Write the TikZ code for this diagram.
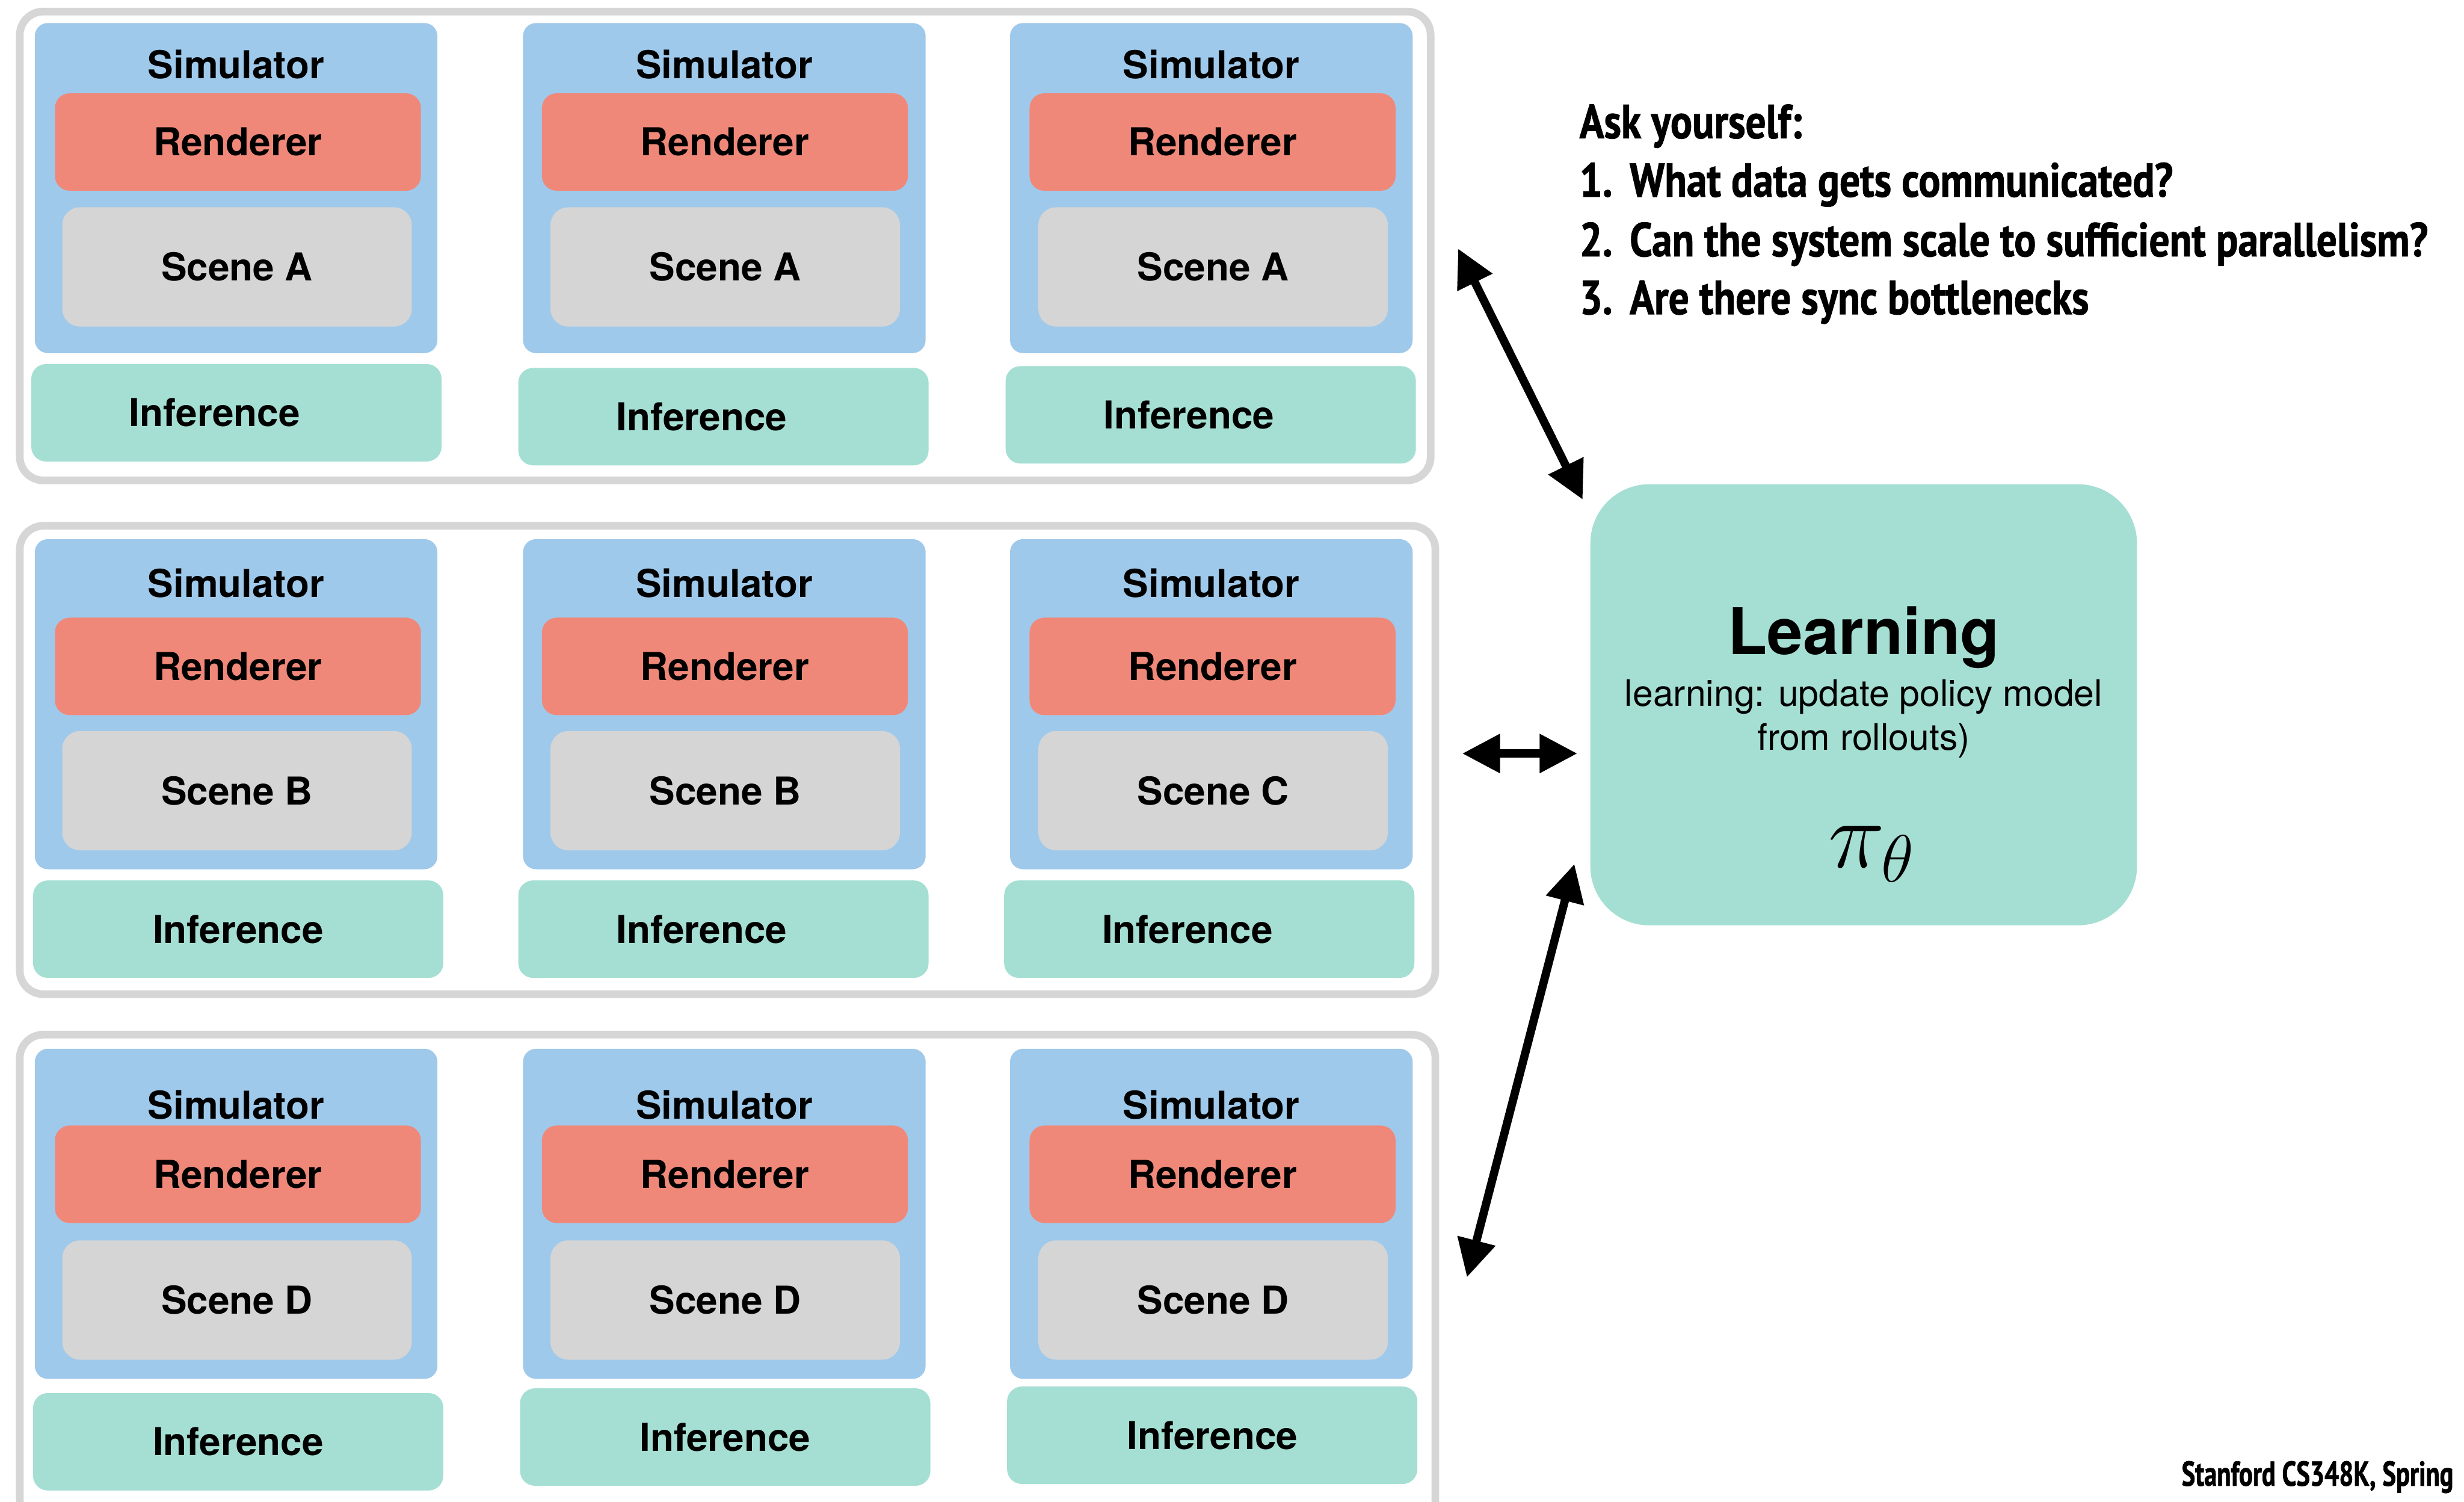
\RequirePackage{fix-cm}
\documentclass[tikz,border=0pt]{standalone}
\usepackage{fontspec}
\setsansfont{TeX Gyre Heros}
\newfontfamily\condfont[FakeStretch=0.85,FakeBold=1.2]{PT Sans}
\newfontfamily\footfont[FakeStretch=0.74,FakeBold=1.2]{PT Sans}
\usetikzlibrary{arrows.meta,positioning}
\definecolor{simblue}{HTML}{9FC9EB}
\definecolor{rendred}{HTML}{F08879}
\definecolor{scenegray}{HTML}{D5D5D5}
\definecolor{infgreen}{HTML}{A5DFD3}
\definecolor{grpgray}{HTML}{D6D6D6}

\begin{document}
\begin{tikzpicture}[
    font=\sffamily\bfseries\fontsize{18.5}{22}\selectfont,
    grpbox/.style={
		rectangle,
		rounded corners=0.4cm,
		draw=grpgray,
		line width=0.13cm,
		inner sep=0pt,
		minimum width=23.98cm
	},
	simbox/.style={
		rectangle,
		rounded corners=0.22cm,
		fill=simblue,
		inner sep=0pt,
		minimum width=6.82cm,
		minimum height=5.59cm
	},
	rendbox/.style={
		rectangle,
		rounded corners=0.25cm,
		fill=rendred,
		inner sep=0pt,
		minimum width=6.20cm,
		minimum height=1.65cm
	},
	scenebox/.style={
		rectangle,
		rounded corners=0.3cm,
		fill=scenegray,
		inner sep=0pt,
		minimum width=5.92cm,
		minimum height=2.02cm
	},
	infbox/.style={
		rectangle,
		rounded corners=0.25cm,
		fill=infgreen,
		inner sep=0pt,
		minimum width=6.95cm,
		minimum height=1.65cm,
		label={[xshift=#1]center:Inference}
	},
	infbox/.default=0cm,
	learnbox/.style={
		rectangle,
		rounded corners=1cm,
		fill=infgreen,
		minimum width=9.26cm,
		minimum height=7.47cm
	},
	asktext/.style={
		anchor=base west,
		inner sep=0pt,
		font=\condfont\bfseries\fontsize{23}{28}\selectfont
	},
	link/.style={
		{Triangle[length=0.64cm,width=0.63cm]}-{Triangle[length=0.64cm,width=0.63cm]},
		line width=0.14cm
	}
  ]

\useasboundingbox (0,0) rectangle (41.74,-25.43);

% // the three groups of workers
\node [grpbox, minimum width=23.90cm, minimum height=7.94cm] (grp1) at (12.285,-4.165) {};
\node [grpbox, minimum height=7.93cm] (grp2) at (12.325,-12.87) {};
\node [grpbox, minimum height=8.28cm] (grp3) at (12.325,-21.66) {};

% group 1
\node [simbox] (sim11) at (4.00,-3.185) {};
\node [simbox] (sim12) at (12.27,-3.185) {};
\node [simbox] (sim13) at (20.52,-3.185) {};
\node (simlab11) at (4.00,-1.09) {Simulator};
\node (simlab12) at (12.27,-1.09) {Simulator};
\node (simlab13) at (20.52,-1.09) {Simulator};
\node [rendbox] (rend11) at (4.03,-2.405) {Renderer};
\node [rendbox] (rend12) at (12.28,-2.405) {Renderer};
\node [rendbox] (rend13) at (20.54,-2.405) {Renderer};
\node [scenebox] (scene11) at (4.015,-4.52) {Scene A};
\node [scenebox] (scene12) at (12.285,-4.52) {Scene A};
\node [scenebox] (scene13) at (20.55,-4.52) {Scene A};
\node [infbox=-0.37cm] (inf11) at (4.005,-6.99) {};
\node [infbox=-0.37cm] (inf12) at (12.255,-7.055) {};
\node [infbox=-0.37cm] (inf13) at (20.51,-7.025) {};

% group 2
\node [simbox] (sim21) at (4.00,-11.925) {};
\node [simbox] (sim22) at (12.27,-11.925) {};
\node [simbox] (sim23) at (20.52,-11.925) {};
\node (simlab21) at (4.00,-9.88) {Simulator};
\node (simlab22) at (12.27,-9.88) {Simulator};
\node (simlab23) at (20.52,-9.88) {Simulator};
\node [rendbox] (rend21) at (4.03,-11.285) {Renderer};
\node [rendbox] (rend22) at (12.28,-11.285) {Renderer};
\node [rendbox] (rend23) at (20.54,-11.285) {Renderer};
\node [scenebox] (scene21) at (4.015,-13.39) {Scene B};
\node [scenebox] (scene22) at (12.285,-13.39) {Scene B};
\node [scenebox] (scene23) at (20.55,-13.39) {Scene C};
\node [infbox] (inf21) at (4.035,-15.735) {};
\node [infbox=-0.37cm] (inf22) at (12.255,-15.735) {};
\node [infbox=-0.37cm] (inf23) at (20.485,-15.735) {};

% group 3
\node [simbox] (sim31) at (4.00,-20.555) {};
\node [simbox] (sim32) at (12.27,-20.555) {};
\node [simbox] (sim33) at (20.52,-20.555) {};
\node (simlab31) at (4.00,-18.71) {Simulator};
\node (simlab32) at (12.27,-18.71) {Simulator};
\node (simlab33) at (20.52,-18.71) {Simulator};
\node [rendbox] (rend31) at (4.03,-19.885) {Renderer};
\node [rendbox] (rend32) at (12.28,-19.885) {Renderer};
\node [rendbox] (rend33) at (20.54,-19.885) {Renderer};
\node [scenebox] (scene31) at (4.015,-22.015) {Scene D};
\node [scenebox] (scene32) at (12.285,-22.015) {Scene D};
\node [scenebox] (scene33) at (20.55,-22.015) {Scene D};
\node [infbox] (inf31) at (4.035,-24.415) {};
\node [infbox] (inf32) at (12.285,-24.335) {};
\node [infbox] (inf33) at (20.535,-24.305) {};

% // the learner
\node [learnbox] (learn) at (31.57,-11.935) {};
\node [anchor=base, font=\sffamily\bfseries\fontsize{31}{36}\selectfont] (learntitle) at (31.57,-11.08) {Learning};
\node [anchor=base, font=\sffamily\fontsize{17.6}{21}\selectfont] (learnsub1) at (31.57,-11.96) {learning: update policy model};
\node [anchor=base, font=\sffamily\fontsize{17.6}{21}\selectfont] (learnsub2) at (31.57,-12.70) {from rollouts)};
\node [anchor=base, font=\fontsize{46}{50}\selectfont] (learnpi) at (31.70,-14.69) {$\pi_\theta$};

% // links
\coordinate (g1end) at (24.70,-4.21);
\coordinate (l1end) at (26.81,-8.46);
\coordinate (g2end) at (24.77,-12.76);
\coordinate (l2end) at (26.72,-12.76);
\coordinate (l3end) at (26.67,-14.63);
\coordinate (g3end) at (24.85,-21.63);
\draw [link] (g1end) -- (l1end);
\draw [link] (g2end) -- (l2end);
\draw [link] (l3end) -- (g3end);

% // questions
\node [asktext] (ask) at (26.75,-2.34) {Ask yourself:};
\node [asktext] (q1num) at (26.75,-3.33) {1.};
\node [asktext] (q1) at (27.60,-3.33) {What data gets communicated?};
\node [asktext] (q2num) at (26.75,-4.34) {2.};
\node [asktext] (q2) at (27.60,-4.34) {Can the system scale to sufficient parallelism?};
\node [asktext] (q3num) at (26.75,-5.32) {3.};
\node [asktext] (q3) at (27.60,-5.32) {Are there sync bottlenecks};

\node [asktext, font=\footfont\bfseries\fontsize{16.7}{20}\selectfont] (footer) at (36.95,-25.16) {Stanford CS348K, Spring};

\end{tikzpicture}
\end{document}
